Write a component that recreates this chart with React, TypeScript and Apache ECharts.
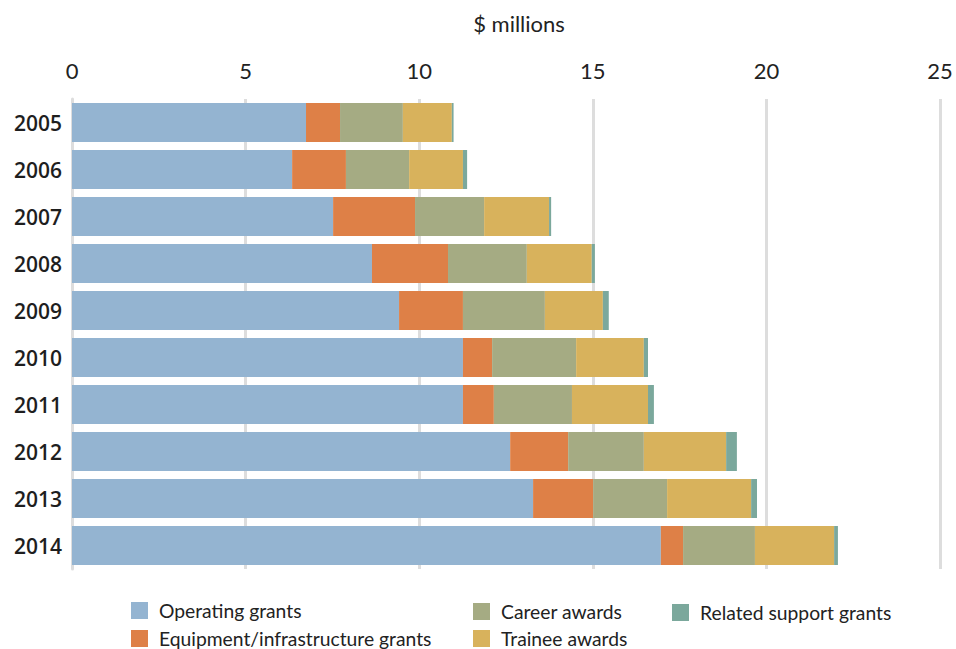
import React, { useEffect, useRef } from "react";
import * as echarts from "echarts";

const years = ["2005", "2006", "2007", "2008", "2009", "2010", "2011", "2012", "2013", "2014"];
const operating = [6.74, 6.34, 7.52, 8.64, 9.42, 11.26, 11.26, 12.62, 13.28, 16.96];
const equipment = [0.98, 1.55, 2.36, 2.19, 1.84, 0.84, 0.89, 1.67, 1.73, 0.64];
const career = [1.81, 1.82, 1.99, 2.27, 2.36, 2.42, 2.25, 2.18, 2.13, 2.07];
const trainee = [1.41, 1.55, 1.87, 1.87, 1.67, 1.95, 2.19, 2.37, 2.42, 2.28];
const related = [0.05, 0.12, 0.06, 0.09, 0.17, 0.12, 0.17, 0.31, 0.17, 0.11];

const seriesNames = [
  "Operating grants",
  "Equipment/infrastructure grants",
  "Career awards",
  "Trainee awards",
  "Related support grants",
];
const colors = ["#94b4d1", "#de8047", "#a5ab83", "#d8b25c", "#7ba89c"];
const seriesData = [operating, equipment, career, trainee, related];

const legendPos = [
  { left: 126, top: 596 },
  { left: 126, top: 624 },
  { left: 468, top: 597 },
  { left: 468, top: 624 },
  { left: 667, top: 598 },
];

export default function App() {
  const ref = useRef<HTMLDivElement>(null);
  useEffect(() => {
    if (!ref.current) return;
    const chart = echarts.init(ref.current, undefined, { renderer: "svg" });
    const font = "Lato";
    chart.setOption({
      animation: false,
      backgroundColor: "#ffffff",
      color: colors,
      graphic: [
        {
          type: "text",
          x: 519,
          y: 23,
          style: {
            text: "$ millions",
            font: "22px Lato",
            fill: "#222",
            align: "center",
            verticalAlign: "middle",
          },
        },
      ],
      legend: seriesNames.map((n, i) => ({
        data: [n],
        left: legendPos[i].left,
        top: legendPos[i].top,
        icon: "rect",
        itemWidth: 17,
        itemHeight: 17,
        selectedMode: false,
        textStyle: { fontFamily: font, fontSize: 19.3, color: "#222", padding: [0, 0, 0, 6] },
      })),
      grid: { left: 72, right: 16, top: 99, bottom: 80, containLabel: false },
      xAxis: {
        type: "value",
        position: "top",
        min: 0,
        max: 25,
        interval: 5,
        axisLine: { show: false },
        axisTick: { show: false },
        axisLabel: { fontFamily: font, fontSize: 22, color: "#222", margin: 18 },
        splitLine: { show: true, lineStyle: { color: "#dddddd", width: 3 } },
      },
      yAxis: {
        type: "category",
        data: years,
        inverse: true,
        axisLine: { show: true, lineStyle: { color: "#dddddd", width: 3 } },
        axisTick: { show: false },
        axisLabel: { fontFamily: "Open Sans", fontWeight: 600, fontSize: 21, color: "#1e1e1e", margin: 10 },
      },
      series: seriesNames.map((n, i) => ({
        name: n,
        type: "bar",
        stack: "total",
        barWidth: 39,
        data: seriesData[i],
        itemStyle: { color: colors[i] },
      })),
    });
    return () => chart.dispose();
  }, []);
  return <div ref={ref} style={{ width: 956, height: 649, position: "absolute", left: 0, top: 0 }} />;
}
